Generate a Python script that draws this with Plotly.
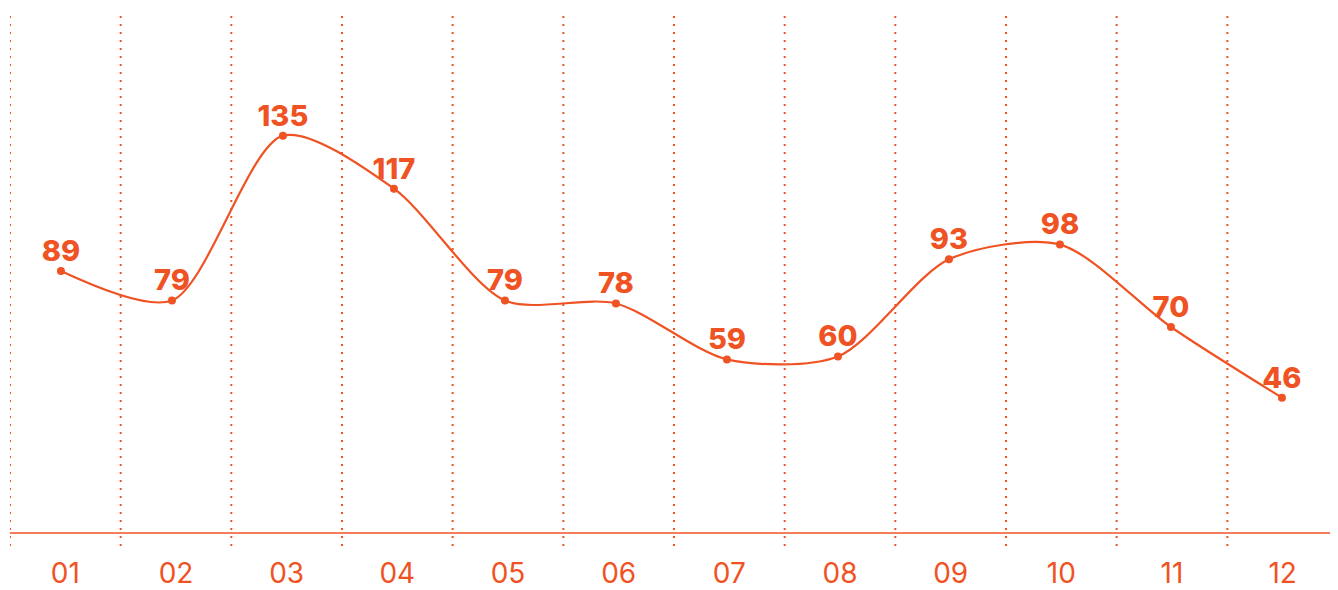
import plotly.graph_objects as go

months = ["01", "02", "03", "04", "05", "06", "07", "08", "09", "10", "11", "12"]
values = [89, 79, 135, 117, 79, 78, 59, 60, 93, 98, 70, 46]

COLOR = "#F05323"
idx = list(range(len(months)))

fig = go.Figure()
fig.add_trace(go.Scatter(
    x=idx, y=values, mode="lines+markers",
    line=dict(color=COLOR, width=2.2, shape="spline", smoothing=0.8),
    marker=dict(color=COLOR, size=8),
    cliponaxis=False, hoverinfo="skip", showlegend=False,
))
fig.add_trace(go.Scatter(
    x=idx, y=values, mode="markers+text",
    marker=dict(color="rgba(0,0,0,0)", size=3),
    text=[str(v) for v in values], textposition="top center",
    textfont=dict(family="Inter", size=29, color=COLOR, weight=800),
    cliponaxis=False, hoverinfo="skip", showlegend=False,
))
# carrier trace for the category tick axis
fig.add_trace(go.Scatter(
    x=idx, y=values, xaxis="x2", mode="markers",
    marker=dict(color="rgba(0,0,0,0)", size=1), hoverinfo="skip", showlegend=False,
))

shapes = []
for k in range(len(months) + 1):
    shapes.append(dict(type="line", xref="x2", yref="paper", x0=k - 0.5, x1=k - 0.5,
                       y0=0, y1=1, line=dict(color=COLOR, width=2, dash="2px,6px"), layer="below"))
shapes.append(dict(type="line", xref="paper", yref="y", x0=0, x1=1.01, y0=0, y1=0,
                   line=dict(color=COLOR, width=1.5)))

fig.update_layout(
    width=1330, height=582,
    margin=dict(l=2, r=0, t=2, b=42),
    paper_bgcolor="white", plot_bgcolor="white",
    shapes=shapes,
    xaxis=dict(range=[-0.459, 11.505], showgrid=False, zeroline=False, showticklabels=False,
               showline=False, fixedrange=True),
    xaxis2=dict(overlaying="x", side="bottom", range=[-0.5, 11.5], tickvals=idx, ticktext=months,
                showgrid=False, zeroline=False, showline=False, ticks="",
                tickfont=dict(family="Inter", size=28, color=COLOR, weight=400),
                ticklabelstandoff=8),
    yaxis=dict(range=[-4.4, 177.7], showgrid=False, zeroline=False, showticklabels=False,
               showline=False),
)

fig.write_html("out.html")
